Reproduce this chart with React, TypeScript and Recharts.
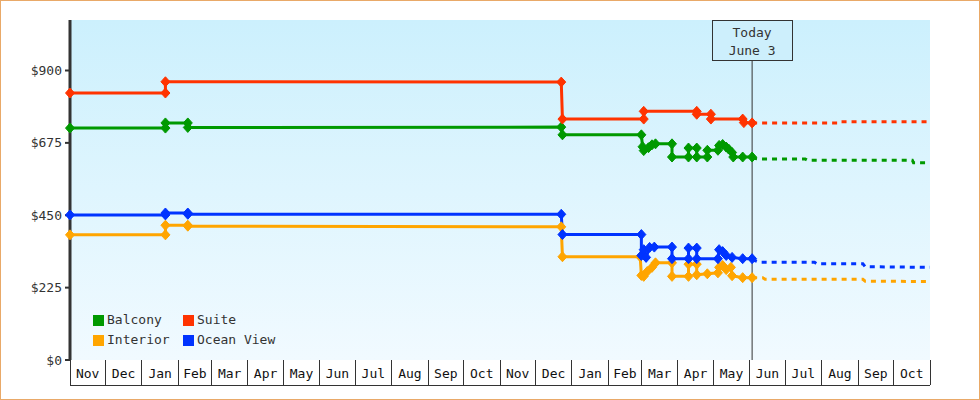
import React from 'react';
import { LineChart, Line, XAxis, YAxis, CartesianGrid, ReferenceLine } from 'recharts';

// ---- data ----
const MONTH_LABELS = [
  'Nov', 'Dec', 'Jan', 'Feb', 'Mar', 'Apr', 'May', 'Jun', 'Jul', 'Aug', 'Sep', 'Oct',
  'Nov', 'Dec', 'Jan', 'Feb', 'Mar', 'Apr', 'May', 'Jun', 'Jul', 'Aug', 'Sep', 'Oct',
];
const MONTH_DAYS = [
  30, 31, 31, 28, 31, 30, 31, 30, 31, 31, 30, 31,
  30, 31, 31, 28, 31, 30, 31, 30, 31, 31, 30, 31,
];
const Y_TICKS = [0, 225, 450, 675, 900];
const Y_MAX = 1057;
const TODAY_DAY = 579;
const TODAY_TEXT = ['Today', 'June 3'];

// observed prices: [day since first Nov 1, price]
const balconyObserved: [number, number][] = [
  [0, 721], [81, 721], [81, 737], [100, 737], [100, 723], [417, 724], [418, 700],
  [485, 700], [486, 663], [487, 651], [491, 660], [494, 669], [497, 672], [511, 672],
  [511, 631], [525, 631], [525, 659], [532, 659], [532, 631], [541, 631], [541, 652],
  [550, 652], [551, 667], [554, 670], [557, 662], [559, 656], [562, 645], [563, 631],
  [571, 631], [579, 631],
];
const suiteObserved: [number, number][] = [
  [0, 830], [81, 830], [81, 865], [417, 864], [418, 749], [487, 749], [487, 773],
  [532, 773], [532, 764], [544, 764], [544, 749], [571, 749], [572, 738], [579, 737],
];
const interiorObserved: [number, number][] = [
  [0, 389], [81, 389], [81, 419], [100, 419], [100, 416], [417, 414], [418, 321],
  [484, 321], [485, 263], [487, 260], [490, 275], [494, 288], [497, 302], [511, 302],
  [511, 260], [525, 260], [525, 298], [532, 298], [532, 265], [541, 268], [550, 271],
  [551, 288], [554, 294], [557, 281], [561, 288], [562, 262], [571, 256], [579, 256],
];
const oceanObserved: [number, number][] = [
  [0, 451], [81, 451], [81, 457], [100, 457], [100, 453], [417, 453], [418, 390],
  [485, 390], [485, 325], [487, 343], [489, 319], [492, 350], [496, 351], [511, 351],
  [511, 315], [525, 315], [525, 348], [532, 348], [532, 315], [550, 315], [551, 343],
  [554, 337], [557, 325], [562, 319], [571, 315], [579, 315],
];

// forecast prices
const balconyForecast: [number, number][] = [
  [579, 628], [584, 625], [624, 625], [626, 621], [715, 621], [716, 613], [730, 613],
];
const suiteForecast: [number, number][] = [
  [579, 737], [652, 737], [653, 741], [730, 741],
];
const interiorForecast: [number, number][] = [
  [579, 256], [588, 256], [590, 251], [673, 251], [675, 245], [730, 244],
];
const oceanForecast: [number, number][] = [
  [579, 312], [585, 304], [632, 304], [634, 299], [673, 299], [675, 290], [730, 288],
];

const SERIES_NAMES = ['Balcony', 'Suite', 'Interior', 'Ocean View'];
const SERIES_COLORS = ['#009900', '#ff3300', '#ffa500', '#0033ff'];

// ---- layout ----
const FONT = '"DejaVu Sans Mono", monospace';
const W = 980;
const H = 400;
const MARGIN = { top: 20, right: 50, bottom: 14, left: 10 };
const YAXIS_W = 60;
const XAXIS_H = 26;
const TOTAL_DAYS = MONTH_DAYS.reduce((a, b) => a + b, 0);
const PLOT_W = W - MARGIN.left - MARGIN.right - YAXIS_W;
const PX_PER_DAY = PLOT_W / TOTAL_DAYS;

const MONTH_STARTS: number[] = [];
MONTH_DAYS.reduce((acc, d) => {
  MONTH_STARTS.push(acc);
  return acc + d;
}, 0);
const X_TICKS = [...MONTH_STARTS, TOTAL_DAYS];

const toRows = (pts: [number, number][]) => pts.map(([day, price]) => ({ day, price }));

const series = [
  { name: SERIES_NAMES[2], color: SERIES_COLORS[2], obs: interiorObserved, fc: interiorForecast },
  { name: SERIES_NAMES[3], color: SERIES_COLORS[3], obs: oceanObserved, fc: oceanForecast },
  { name: SERIES_NAMES[0], color: SERIES_COLORS[0], obs: balconyObserved, fc: balconyForecast },
  { name: SERIES_NAMES[1], color: SERIES_COLORS[1], obs: suiteObserved, fc: suiteForecast },
];

const makeDiamond = (color: string) => (props: any) => {
  const { cx, cy, index } = props;
  if (cx == null || cy == null) return <g key={index} />;
  return (
    <path
      key={index}
      d={`M${cx},${cy - 5}L${cx + 4.5},${cy}L${cx},${cy + 5}L${cx - 4.5},${cy}Z`}
      fill={color}
      stroke={color}
      strokeWidth={1}
      strokeLinejoin="round"
    />
  );
};

const MonthTick = (props: any) => {
  const { x, y, payload } = props;
  const i = MONTH_STARTS.indexOf(payload.value);
  const w = i >= 0 ? MONTH_DAYS[i] * PX_PER_DAY : 0;
  return (
    <g>
      <line x1={x} x2={x} y1={y} y2={y + 25} stroke="#333" strokeWidth={1} shapeRendering="crispEdges" />
      {w > 0 && (
        <line x1={x} x2={x + w} y1={y + 25} y2={y + 25} stroke="#333" strokeWidth={1} shapeRendering="crispEdges" />
      )}
      {w > 0 && (
        <text x={x + w / 2} y={y + 17.5} textAnchor="middle" fontFamily={FONT} fontSize={13} fill="#111">
          {MONTH_LABELS[i]}
        </text>
      )}
    </g>
  );
};

const TodayBox = (props: any) => {
  const vb = props.viewBox || {};
  const cx = vb.x;
  const top = vb.y;
  return (
    <g>
      <rect x={cx - 40} y={top} width={80} height={40} fill="#cdeffc" stroke="#333" strokeWidth={1} shapeRendering="crispEdges" />
      <text x={cx} y={top + 16.5} textAnchor="middle" fontFamily={FONT} fontSize={13} fill="#333">
        {TODAY_TEXT[0]}
      </text>
      <text x={cx} y={top + 34.5} textAnchor="middle" fontFamily={FONT} fontSize={13} fill="#333">
        {TODAY_TEXT[1]}
      </text>
    </g>
  );
};

const LEGEND_ORDER = [0, 1, 2, 3];
const LegendGrid = () => (
  <div
    style={{
      position: 'absolute',
      left: 93,
      top: 310,
      display: 'grid',
      gridTemplateColumns: '90px 110px',
      fontFamily: FONT,
      fontSize: 13,
      color: '#333',
      lineHeight: '20px',
    }}
  >
    {LEGEND_ORDER.map((i) => (
      <div key={i} style={{ display: 'flex', alignItems: 'center', height: 20 }}>
        <span style={{ display: 'inline-block', width: 11, height: 11, background: SERIES_COLORS[i], marginRight: 3 }} />
        <span>{SERIES_NAMES[i]}</span>
      </div>
    ))}
  </div>
);

export default function App() {
  return (
    <div style={{ position: 'absolute', left: 0, top: 0, width: W, height: H, background: '#fff' }}>
      <LineChart width={W} height={H} margin={MARGIN}>
        <defs>
          <linearGradient id="plotBg" x1="0" y1="0" x2="0" y2="1">
            <stop offset="0" stopColor="#ccf0fd" />
            <stop offset="1" stopColor="#f1faff" />
          </linearGradient>
        </defs>
        <CartesianGrid horizontal={false} vertical={false} fill="url(#plotBg)" stroke="none" />
        <XAxis
          type="number"
          dataKey="day"
          domain={[0, TOTAL_DAYS]}
          ticks={X_TICKS}
          interval={0}
          tick={<MonthTick />}
          tickLine={false}
          axisLine={false}
          tickSize={0}
          tickMargin={0}
          height={XAXIS_H}
        />
        <YAxis
          type="number"
          domain={[0, Y_MAX]}
          ticks={Y_TICKS}
          width={YAXIS_W}
          tickFormatter={(v: number) => `$${v}`}
          tick={{ fill: '#333', fontSize: 13, fontFamily: FONT }}
          tickSize={5}
          tickMargin={3}
          axisLine={{ stroke: '#333', strokeWidth: 3 }}
          tickLine={{ stroke: '#333', strokeWidth: 2 }}
        />
        <ReferenceLine x={TODAY_DAY} stroke="#333" strokeWidth={1} label={<TodayBox />} ifOverflow="visible" />
        {series.map((s) => (
          <Line
            key={s.name + '-fc'}
            data={toRows(s.fc)}
            dataKey="price"
            name={s.name + ' forecast'}
            type="linear"
            stroke={s.color}
            strokeWidth={3}
            strokeDasharray="5 5"
            dot={false}
            activeDot={false}
            isAnimationActive={false}
          />
        ))}
        {series.map((s) => (
          <Line
            key={s.name}
            data={toRows(s.obs)}
            dataKey="price"
            name={s.name}
            type="linear"
            stroke={s.color}
            strokeWidth={3}
            dot={makeDiamond(s.color)}
            activeDot={false}
            isAnimationActive={false}
          />
        ))}
      </LineChart>
      <LegendGrid />
      <div
        style={{
          position: 'absolute',
          left: 0,
          top: 0,
          width: W,
          height: H,
          boxSizing: 'border-box',
          border: '1px solid #e9a968',
          pointerEvents: 'none',
        }}
      />
    </div>
  );
}
